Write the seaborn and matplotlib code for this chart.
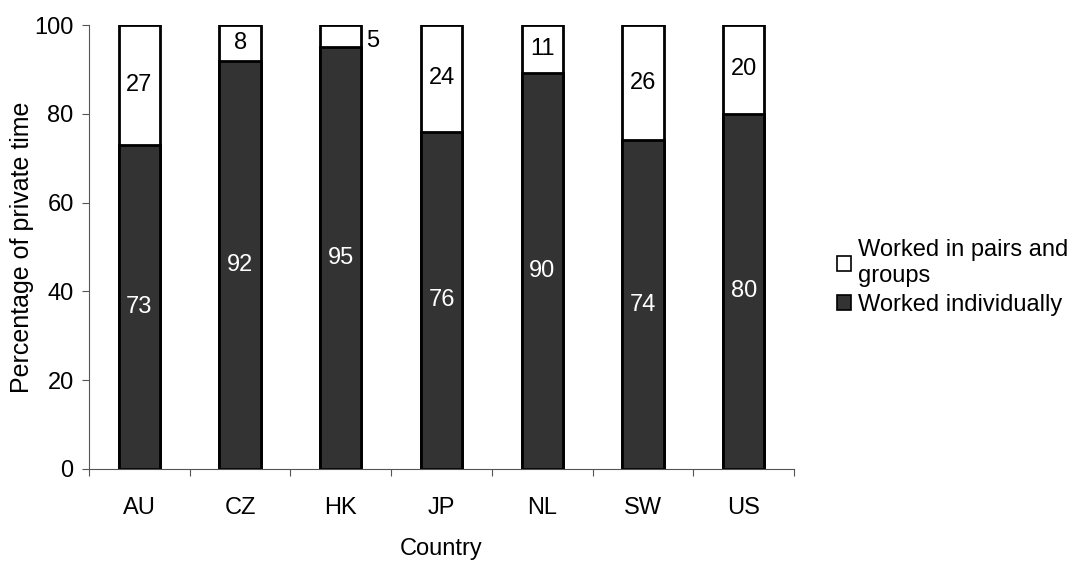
import matplotlib
matplotlib.use('Agg')
import matplotlib.pyplot as plt
import seaborn as sns
import numpy as np
import pandas as pd
from matplotlib.patches import Patch

countries = ['AU', 'CZ', 'HK', 'JP', 'NL', 'SW', 'US']
individually = [73, 92, 95, 76, 90, 74, 80]
pairs_groups = [27, 8, 5, 24, 11, 26, 20]

sns.set_style('white')
plt.rcParams['font.family'] = ['Liberation Sans', 'DejaVu Sans']
plt.rcParams['text.color'] = 'black'
plt.rcParams['axes.labelcolor'] = 'black'
plt.rcParams['xtick.color'] = 'black'
plt.rcParams['ytick.color'] = 'black'

df = pd.DataFrame({'Country': countries,
                   'individually': individually,
                   'pairs': pairs_groups})
df['total'] = df['individually'] + df['pairs']
# shares in percent so every stack ends at 100
df['ind_pct'] = df['individually'] / df['total'] * 100
df['tot_pct'] = 100.0

dark = '#333333'
fs = 17

fig = plt.figure(figsize=(10.76, 5.62), dpi=100)
ax = fig.add_axes([0.0827, 0.1655, 0.6553, 0.79])

sns.barplot(data=df, x='Country', y='tot_pct', color='white', width=0.41,
            edgecolor='black', linewidth=2, ax=ax, saturation=1)
sns.barplot(data=df, x='Country', y='ind_pct', color=dark, width=0.41,
            edgecolor='black', linewidth=2, ax=ax, saturation=1)

# value labels
for i, row in df.iterrows():
    ax.text(i, row['ind_pct'] / 2, f"{row['individually']}", ha='center', va='center',
            color='white', fontsize=fs)
    top_mid = row['ind_pct'] + (100 - row['ind_pct']) / 2
    if row['pairs'] < 7:
        ax.text(i + 0.25, top_mid - 1, f"{row['pairs']}", ha='left', va='center',
                color='black', fontsize=fs)
    else:
        ax.text(i, top_mid, f"{row['pairs']}", ha='center', va='center',
                color='black', fontsize=fs)

ax.set_xlim(-0.5, len(countries) - 0.5)
ax.set_ylim(0, 100)
ax.set_yticks(np.arange(0, 101, 20))
ax.set_xticks(np.arange(-0.5, len(countries), 1), minor=True)
ax.tick_params(axis='x', which='major', length=0, pad=20, labelsize=fs)
ax.tick_params(axis='x', which='minor', length=5, width=0.8, direction='out',
               bottom=True, color='#555555')
ax.tick_params(axis='y', length=5, width=0.8, direction='out', left=True, pad=6,
               labelsize=fs, color='#555555')

for s in ['top', 'right']:
    ax.spines[s].set_visible(False)
for s in ['left', 'bottom']:
    ax.spines[s].set_color('#555555')
    ax.spines[s].set_linewidth(0.8)

ax.set_xlabel('Country', fontsize=fs, labelpad=14)
ax.set_ylabel('Percentage of private time', fontsize=18, labelpad=0)

handles = [Patch(facecolor='white', edgecolor='black', linewidth=1.2),
           Patch(facecolor=dark, edgecolor='black', linewidth=1.2)]
fig.legend(handles, ['Worked in pairs and\ngroups', 'Worked individually'],
           loc='upper left', bbox_to_anchor=(0.758, 0.612), frameon=False,
           fontsize=fs, handlelength=0.6, handleheight=0.6, handletextpad=0.3,
           labelspacing=0.3)

fig.savefig('out.png', dpi=100)
